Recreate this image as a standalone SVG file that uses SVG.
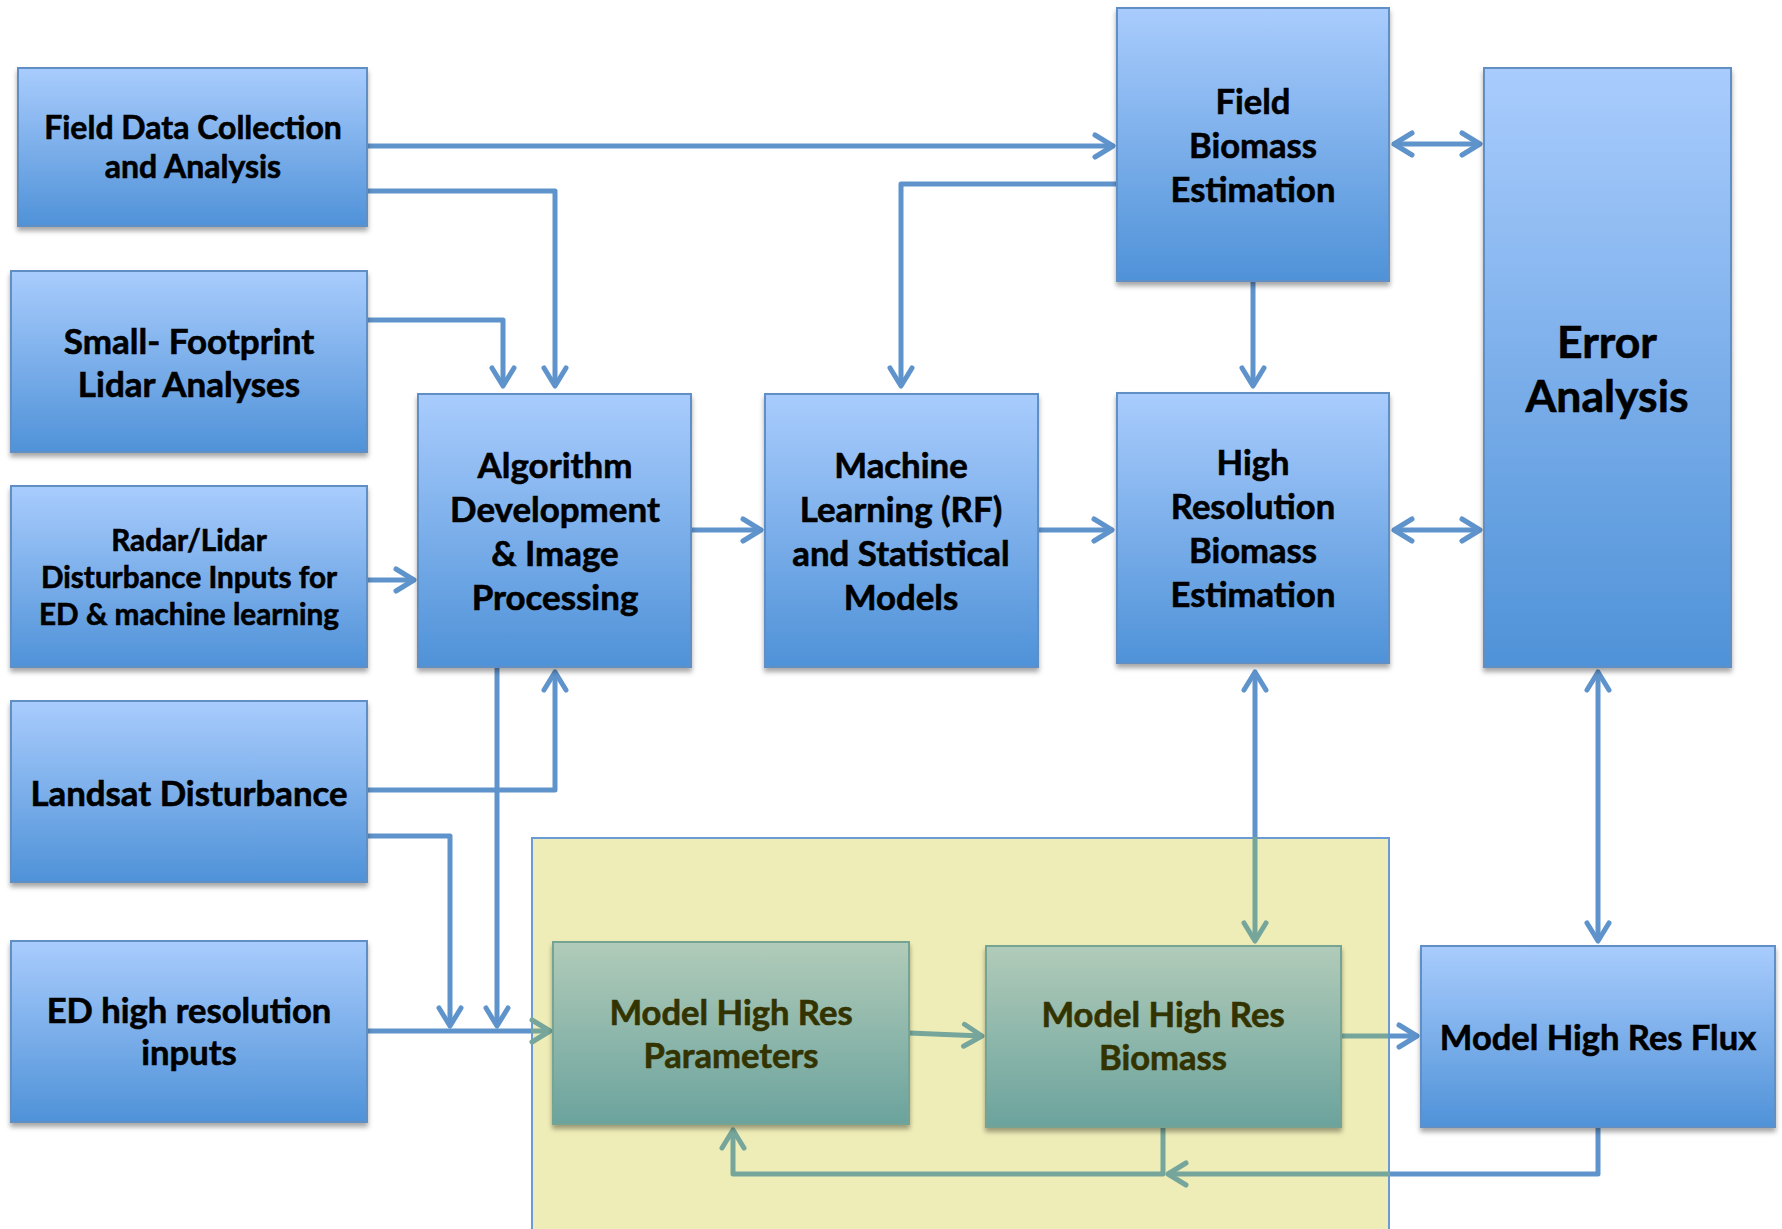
<svg xmlns="http://www.w3.org/2000/svg" width="1782" height="1229" viewBox="0 0 1782 1229">
<defs>
<linearGradient id="gBlue" x1="0" y1="0" x2="0" y2="1">
<stop offset="0" stop-color="#a9ccfd"/>
<stop offset="1" stop-color="#4f92d8"/>
</linearGradient>
<linearGradient id="gTeal" x1="0" y1="0" x2="0" y2="1">
<stop offset="0" stop-color="#b1cbb9"/>
<stop offset="1" stop-color="#6ba39d"/>
</linearGradient>
<filter id="sh" x="-5%" y="-5%" width="110%" height="115%">
<feDropShadow dx="0" dy="4" stdDeviation="2.5" flood-color="#000" flood-opacity="0.35"/>
</filter>
<marker id="aB" viewBox="-24 -16 30 32" refX="0" refY="0" markerWidth="30" markerHeight="32" markerUnits="userSpaceOnUse" orient="auto-start-reverse">
<path d="M-18,-11 L0,0 L-18,11" fill="none" stroke="#5f93cb" stroke-width="5" stroke-linecap="round" stroke-linejoin="round"/>
</marker>
<marker id="aG" viewBox="-24 -16 30 32" refX="0" refY="0" markerWidth="30" markerHeight="32" markerUnits="userSpaceOnUse" orient="auto-start-reverse">
<path d="M-18,-11 L0,0 L-18,11" fill="none" stroke="#76a69b" stroke-width="5" stroke-linecap="round" stroke-linejoin="round"/>
</marker>
</defs>
<style>
.box{fill:url(#gBlue);stroke:#5f8fc5;stroke-width:2;filter:url(#sh)}
.mbox{fill:url(#gTeal);stroke:#74a394;stroke-width:2;filter:url(#sh)}
.t{font-family:Lato,"Liberation Sans",sans-serif;font-weight:bold;fill:#000;stroke:#000;stroke-width:0.6;text-anchor:middle}
.mt{fill:#333300;stroke:#333300}
.cb{fill:none;stroke:#5f93cb;stroke-width:5;stroke-linejoin:round}
.cg{fill:none;stroke:#76a69b;stroke-width:5;stroke-linejoin:round}
</style>
<rect width="1782" height="1229" fill="#fff"/>

<g id="model-region">
<rect x="532" y="838" width="857" height="420" fill="#efedb7" stroke="#6b9bd6" stroke-width="2"/>
</g>

<g id="connectors">
<path class="cb" d="M367,146 H1113" marker-end="url(#aB)"/>
<path class="cb" d="M367,191 H555 V386" marker-end="url(#aB)"/>
<path class="cb" d="M367,320 H503 V386" marker-end="url(#aB)"/>
<path class="cb" d="M367,580 H414" marker-end="url(#aB)"/>
<path class="cb" d="M691,530 H761" marker-end="url(#aB)"/>
<path class="cb" d="M1038,530 H1112" marker-end="url(#aB)"/>
<path class="cb" d="M1117,184 H901 V386" marker-end="url(#aB)"/>
<path class="cb" d="M1253,281 V386" marker-end="url(#aB)"/>
<path class="cb" d="M1394,144 H1480" marker-start="url(#aB)" marker-end="url(#aB)"/>
<path class="cb" d="M1394,530 H1480" marker-start="url(#aB)" marker-end="url(#aB)"/>
<path class="cb" d="M367,790 H555 V672" marker-end="url(#aB)"/>
<path class="cb" d="M367,836 H450 V1026" marker-end="url(#aB)"/>
<path class="cb" d="M497,667 V1026" marker-end="url(#aB)"/>
<path class="cb" d="M367,1031 H533"/>
<path class="cg" d="M531,1031 H550" marker-end="url(#aG)"/>
<path class="cb" d="M1255,839 V672" marker-end="url(#aB)"/>
<path class="cg" d="M1255,837 V941" marker-end="url(#aG)"/>
<path class="cg" d="M909,1033 L982,1036" marker-end="url(#aG)"/>
<path class="cg" d="M1341,1036 H1390"/>
<path class="cb" d="M1388,1036 H1417" marker-end="url(#aB)"/>
<path class="cg" d="M1163,1127 V1174 H733 V1130" marker-end="url(#aG)"/>
<path class="cb" d="M1598,1127 V1174 H1388"/>
<path class="cg" d="M1390,1174 H1168" marker-end="url(#aG)"/>
<path class="cb" d="M1598,672 V941" marker-start="url(#aB)" marker-end="url(#aB)"/>
</g>

<g id="field-data">
<rect class="box" x="18" y="68" width="349" height="158"/>
<text class="t" font-size="32" x="193" y="139">Field Data Collection</text>
<text class="t" font-size="32" x="193" y="178">and Analysis</text>
</g>
<g id="small-footprint">
<rect class="box" x="11" y="271" width="356" height="181"/>
<text class="t" font-size="35" x="189" y="354">Small- Footprint</text>
<text class="t" font-size="35" x="189" y="397">Lidar Analyses</text>
</g>
<g id="radar-lidar">
<rect class="box" x="11" y="486" width="356" height="181"/>
<text class="t" font-size="29.7" x="189" y="551">Radar/Lidar</text>
<text class="t" font-size="29.7" x="189" y="588">Disturbance Inputs for</text>
<text class="t" font-size="29.7" x="189" y="625">ED &amp; machine learning</text>
</g>
<g id="landsat">
<rect class="box" x="11" y="701" width="356" height="181"/>
<text class="t" font-size="34.8" x="189" y="806">Landsat Disturbance</text>
</g>
<g id="ed-inputs">
<rect class="box" x="11" y="941" width="356" height="181"/>
<text class="t" font-size="34.6" x="189" y="1023">ED high resolution</text>
<text class="t" font-size="34.6" x="189" y="1065">inputs</text>
</g>
<g id="algorithm">
<rect class="box" x="418" y="394" width="273" height="273"/>
<text class="t" font-size="34.9" x="555" y="478">Algorithm</text>
<text class="t" font-size="34.9" x="555" y="522">Development</text>
<text class="t" font-size="34.9" x="555" y="566">&amp; Image</text>
<text class="t" font-size="34.9" x="555" y="610">Processing</text>
</g>
<g id="machine-learning">
<rect class="box" x="765" y="394" width="273" height="273"/>
<text class="t" font-size="34.8" x="901" y="478">Machine</text>
<text class="t" font-size="34.8" x="901" y="522">Learning (RF)</text>
<text class="t" font-size="34.8" x="901" y="566">and Statistical</text>
<text class="t" font-size="34.8" x="901" y="610">Models</text>
</g>
<g id="field-biomass">
<rect class="box" x="1117" y="8" width="272" height="273"/>
<text class="t" font-size="34.6" x="1253" y="114">Field</text>
<text class="t" font-size="34.6" x="1253" y="158">Biomass</text>
<text class="t" font-size="34.6" x="1253" y="202">Estimation</text>
</g>
<g id="high-res-biomass">
<rect class="box" x="1117" y="393" width="272" height="270"/>
<text class="t" font-size="34.6" x="1253" y="475">High</text>
<text class="t" font-size="34.6" x="1253" y="519">Resolution</text>
<text class="t" font-size="34.6" x="1253" y="563">Biomass</text>
<text class="t" font-size="34.6" x="1253" y="607">Estimation</text>
</g>
<g id="error-analysis">
<rect class="box" x="1484" y="68" width="247" height="599"/>
<text class="t" font-size="44.5" x="1607" y="358">Error</text>
<text class="t" font-size="44.5" x="1607" y="412">Analysis</text>
</g>
<g id="model-params">
<rect class="mbox" x="553" y="942" width="356" height="182"/>
<text class="t mt" font-size="34.6" x="731" y="1025">Model High Res</text>
<text class="t mt" font-size="34.6" x="731" y="1068">Parameters</text>
</g>
<g id="model-biomass">
<rect class="mbox" x="986" y="946" width="355" height="181"/>
<text class="t mt" font-size="34.6" x="1163" y="1027">Model High Res</text>
<text class="t mt" font-size="34.6" x="1163" y="1070">Biomass</text>
</g>
<g id="model-flux">
<rect class="box" x="1421" y="946" width="354" height="181"/>
<text class="t" font-size="34.5" x="1598" y="1050">Model High Res Flux</text>
</g>
</svg>
